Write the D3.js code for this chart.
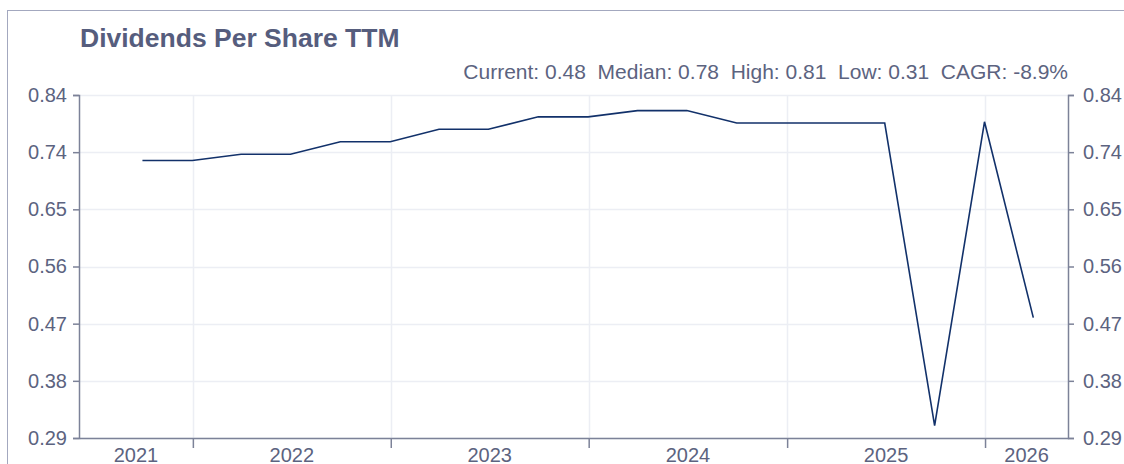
<!DOCTYPE html>
<html>
<head>
<meta charset="utf-8">
<script src="https://cdn.jsdelivr.net/npm/d3@7"></script>
<style>
  html, body { margin: 0; padding: 0; background: #ffffff; }
  svg { display: block; font-family: "Liberation Sans", Arial, Helvetica, sans-serif; }
</style>
</head>
<body>
<svg id="chart" width="1124" height="464"></svg>
<script>
// Quarter-end dates of the trailing-twelve-month dividend series
const dates = [
  "2021-09-30", "2021-12-31",
  "2022-03-31", "2022-06-30", "2022-09-30", "2022-12-31",
  "2023-03-31", "2023-06-30", "2023-09-30", "2023-12-31",
  "2024-03-31", "2024-06-30", "2024-09-30", "2024-12-31",
  "2025-03-31", "2025-06-30", "2025-09-30", "2025-12-31",
  "2026-03-31"
];
// Dividends per share, TTM
const dps = [
  0.735, 0.735,
  0.745, 0.745, 0.765, 0.765,
  0.785, 0.785, 0.805, 0.805,
  0.815, 0.815, 0.795, 0.795,
  0.795, 0.795, 0.31, 0.797,
  0.483
];
const yearLabels = ["2021", "2022", "2023", "2024", "2025", "2026"];
const yTickLabels = ["0.29", "0.38", "0.47", "0.56", "0.65", "0.74", "0.84"];
const yMin = 0.29, yMax = 0.84;
const xStart = "2021-06-05", xEnd = "2026-06-03";
const title = "Dividends Per Share TTM";
const summary = "Current: 0.48\u00a0\u00a0Median: 0.78\u00a0\u00a0High: 0.81\u00a0\u00a0Low: 0.31\u00a0\u00a0CAGR: -8.9%";

const parse = d3.utcParse("%Y-%m-%d");
const svg = d3.select("#chart");
const W = 1124, H = 464;
const m = { left: 79, right: 1068, top: 95, bottom: 438 };

const axisColor = "#7c8298";
const textColor = "#5c6380";
const gridColor = "#eceef4";
const tickFont = "20px";

// outer frame
svg.append("rect")
  .attr("x", 7.5).attr("y", 10.5)
  .attr("width", W).attr("height", H)
  .attr("fill", "none").attr("stroke", "#a3a8bf").attr("stroke-width", 1);

const x = d3.scaleUtc().domain([parse(xStart), parse(xEnd)]).range([m.left, m.right]);
const y = d3.scaleLinear().domain([yMin, yMax]).range([m.bottom, m.top]);

const yTicks = yTickLabels.map((_, i) => yMin + i * (yMax - yMin) / (yTickLabels.length - 1));
const yearStarts = yearLabels.slice(1).map(s => parse(s + "-01-01"));

// grid
const grid = svg.append("g");
grid.selectAll("line.h").data(yTicks).join("line")
  .attr("x1", m.left).attr("x2", m.right)
  .attr("y1", d => Math.round(y(d)) + 0.5).attr("y2", d => Math.round(y(d)) + 0.5)
  .attr("stroke", gridColor).attr("stroke-width", 1.5);
grid.selectAll("line.v").data(yearStarts).join("line")
  .attr("x1", d => Math.round(x(d)) + 0.5).attr("x2", d => Math.round(x(d)) + 0.5)
  .attr("y1", m.top).attr("y2", m.bottom)
  .attr("stroke", gridColor).attr("stroke-width", 1.5);

// axes
function styleAxis(g) {
  g.selectAll("path.domain").attr("stroke", axisColor).attr("stroke-width", 1.5);
  g.selectAll(".tick line").attr("stroke", axisColor).attr("stroke-width", 1.5);
  g.selectAll(".tick text").attr("fill", textColor).style("font-size", tickFont)
    .style("font-family", "'Liberation Sans', Arial, sans-serif");
}

const fmtY = (d, i) => yTickLabels[i];
svg.append("g").attr("transform", `translate(${m.left},0)`)
  .call(d3.axisLeft(y).tickValues(yTicks).tickFormat(fmtY).tickSize(6).tickPadding(6))
  .call(styleAxis);
svg.append("g").attr("transform", `translate(${m.right},0)`)
  .call(d3.axisRight(y).tickValues(yTicks).tickFormat(fmtY).tickSize(6).tickPadding(9))
  .call(styleAxis);
svg.append("g").attr("transform", `translate(0,${m.bottom})`)
  .call(d3.axisBottom(x).tickValues(yearStarts).tickFormat("").tickSize(10).tickSizeOuter(0))
  .call(styleAxis);

// year labels centred in each year's span
const bounds = [x.domain()[0], ...yearStarts, x.domain()[1]];
svg.append("g").selectAll("text").data(yearLabels).join("text")
  .attr("x", (d, i) => (x(bounds[i]) + x(bounds[i + 1])) / 2)
  .attr("y", 462)
  .attr("text-anchor", "middle")
  .attr("fill", textColor)
  .style("font-size", tickFont)
  .text(d => d);

// series line
const series = dates.map((d, i) => ({ date: parse(d), value: dps[i] }));
svg.append("path")
  .datum(series)
  .attr("fill", "none")
  .attr("stroke", "#12316a")
  .attr("stroke-width", 1.6)
  .attr("stroke-linejoin", "miter")
  .attr("d", d3.line().x(d => x(d.date)).y(d => y(d.value)));

// title and summary
svg.append("text")
  .attr("x", 80).attr("y", 47)
  .attr("fill", "#565d7d")
  .style("font-size", "26.5px").style("font-weight", "bold")
  .text(title);
svg.append("text")
  .attr("x", m.right).attr("y", 79)
  .attr("text-anchor", "end")
  .attr("fill", textColor)
  .style("font-size", "21px")
  .text(summary);
</script>
</body>
</html>
